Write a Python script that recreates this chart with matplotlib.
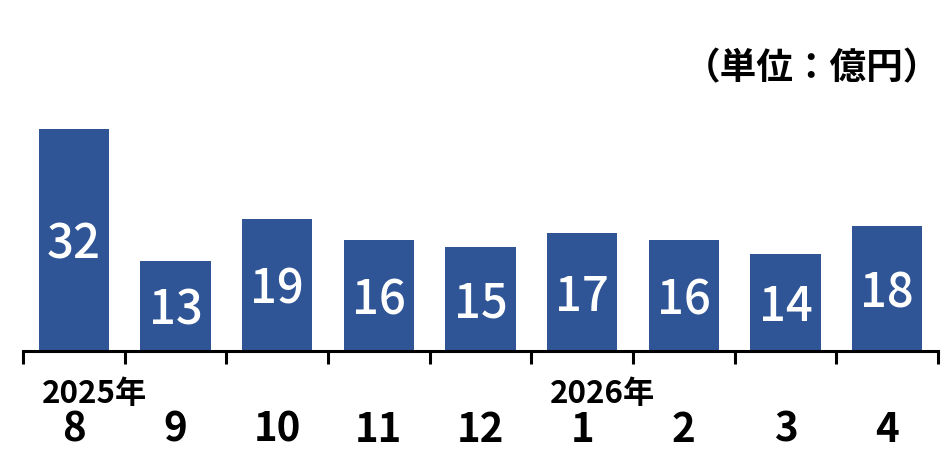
import matplotlib.pyplot as plt
from matplotlib.transforms import blended_transform_factory

plt.rcParams['font.family'] = ['Noto Sans CJK JP', 'DejaVu Sans']

months = ["8", "9", "10", "11", "12", "1", "2", "3", "4"]
values = [32, 13, 19, 16, 15, 17, 16, 14, 18]
year_labels = {0: "2025年", 5: "2026年"}
unit_label = "（単位：億円）"

bar_color = "#2F5597"

fig = plt.figure(figsize=(9.41, 4.70), dpi=100)
# axes: left 23px, right 938px, bottom at 351px from top
ax = fig.add_axes([23 / 941, (470 - 351) / 470, 915 / 941, 280 / 470])

x = list(range(len(values)))
bars = ax.bar(x, values, width=0.69, color=bar_color, zorder=2)

# value labels inside the bars (baseline set so digits sit centred)
for xi, v in zip(x, values):
    ax.annotate(str(v), (xi, v / 2), xytext=(0, -13.5),
                textcoords='offset points', ha='center', va='baseline',
                color='white', fontsize=34, fontweight='medium')

ax.set_xlim(-0.5, len(values) - 0.5)
ax.set_ylim(0, 280 / 6.94)

# only the bottom axis line, ticks between categories
for side in ['top', 'right', 'left']:
    ax.spines[side].set_visible(False)
ax.spines['bottom'].set_linewidth(2.2)
ax.spines['bottom'].set_color('black')
ax.set_yticks([])
ax.set_xticks([i - 0.5 for i in range(len(values) + 1)])
ax.set_xticklabels([])
ax.tick_params(axis='x', direction='out', length=9, width=2.2, color='black')

# month labels and year labels below the axis
trans = blended_transform_factory(ax.transData, fig.transFigure)
for xi, m in zip(x, months):
    ax.text(xi, 1 - 430 / 470, m, transform=trans, ha='center', va='center',
            fontsize=29, fontweight='bold', color='black')
for xi, lab in year_labels.items():
    ax.text(xi + 0.2, 1 - 394 / 470, lab, transform=trans, ha='center',
            va='center', fontsize=22.5, fontweight='bold', color='black')

# unit label kept inside the canvas (full-width brackets carry side bearing)
fig.text(940 / 941, 1 - 69 / 470, unit_label, ha='right', va='center',
         fontsize=26.4, fontweight='bold', color='black')

fig.savefig("out.png", dpi=100)
